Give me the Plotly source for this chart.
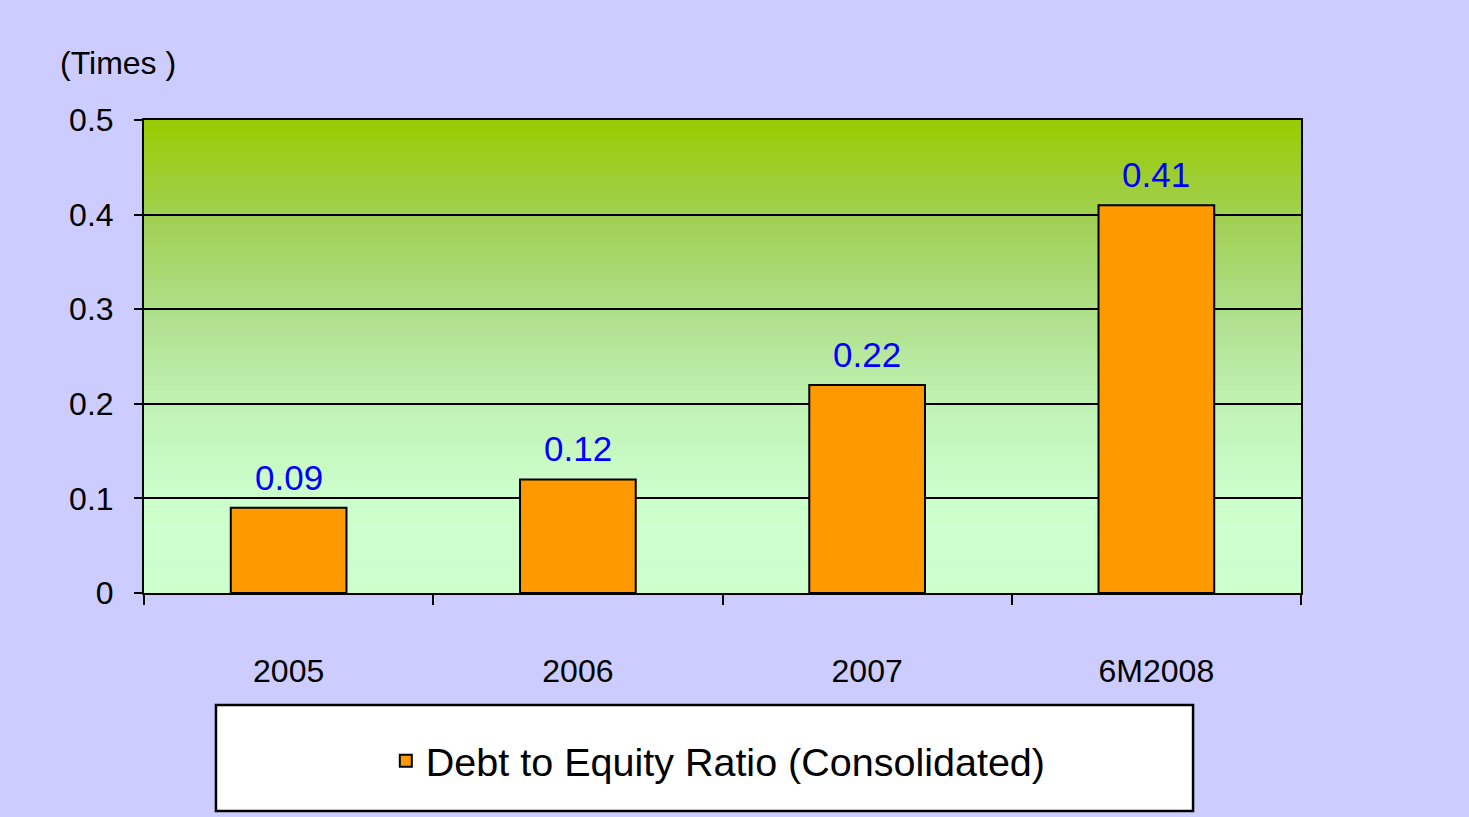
import plotly.graph_objects as go

categories = ["2005", "2006", "2007", "6M2008"]
values = [0.09, 0.12, 0.22, 0.41]
value_labels = ["0.09", "0.12", "0.22", "0.41"]
y_ticks = [0, 0.1, 0.2, 0.3, 0.4, 0.5]
y_tick_labels = ["0", "0.1", "0.2", "0.3", "0.4", "0.5"]
series_name = "Debt to Equity Ratio (Consolidated)"
unit_label = "(Times )"

FONT = "Arial, Liberation Sans, sans-serif"
positions = list(range(len(categories)))
boundaries = [p - 0.5 for p in positions] + [positions[-1] + 0.5]

fig = go.Figure()
fig.add_trace(go.Bar(
    x=positions, y=values, name=series_name, width=0.4,
    marker=dict(color="#FF9900", line=dict(color="black", width=2)),
    showlegend=True,
))

# gradient background of plot area
stops_y = [0.0, 0.1, 0.2, 0.3, 0.4, 0.5]
stops_c = [(204, 255, 204), (204, 255, 204), (192, 242, 180), (174, 223, 136), (160, 208, 80), (153, 204, 0)]

def col_at(v):
    for i in range(len(stops_y) - 1):
        if stops_y[i] <= v <= stops_y[i + 1]:
            t = (v - stops_y[i]) / (stops_y[i + 1] - stops_y[i])
            c = [round(a + (b - a) * t) for a, b in zip(stops_c[i], stops_c[i + 1])]
            return "rgb(%d,%d,%d)" % tuple(c)
    return "rgb(%d,%d,%d)" % stops_c[-1]

shapes = []
n = 100
for i in range(n):
    y0 = 0.5 * i / n
    y1 = 0.5 * (i + 1) / n
    shapes.append(dict(type="rect", xref="x domain", yref="y domain", x0=0, x1=1, y0=y0 * 2, y1=min(1, y1 * 2 + 0.001),
                       fillcolor=col_at((y0 + y1) / 2), line=dict(width=0), layer="below"))

# legend box
shapes.append(dict(type="rect", xref="paper", yref="paper", x0=0.0622, x1=0.9067, y0=-0.4609, y1=-0.2368,
                   fillcolor="white", line=dict(color="black", width=2.5), layer="below"))

annotations = [dict(x=p, y=v, text=t, xref="x", yref="y", showarrow=False, yanchor="bottom", yshift=9,
                    font=dict(family=FONT, size=35, color="#0000FF"))
               for p, v, t in zip(positions, values, value_labels)]
annotations.append(dict(x=-0.0743, y=1.0, xref="paper", yref="paper", text=unit_label, showarrow=False,
                        xanchor="left", yanchor="bottom", yshift=37,
                        font=dict(family=FONT, size=32, color="black")))

fig.update_layout(
    width=1469, height=817,
    paper_bgcolor="#CCCCFF", plot_bgcolor="rgba(0,0,0,0)",
    margin=dict(l=144, r=168, t=120, b=224),
    font=dict(family=FONT, size=32, color="black"),
    shapes=shapes, annotations=annotations,
    legend=dict(x=0.209, xanchor="left", y=-0.3552, yanchor="middle", orientation="h",
                bgcolor="rgba(0,0,0,0)", borderwidth=0,
                font=dict(family=FONT, size=39.5, color="black")),
    xaxis=dict(range=[-0.5, len(categories) - 0.5], tickmode="array", tickvals=positions, ticktext=categories,
               ticks="", showline=True, linecolor="black", linewidth=2, mirror=True,
               showgrid=False, zeroline=False, ticklabelstandoff=49, tickfont=dict(size=32), tickangle=0,
               minor=dict(tickmode="array", tickvals=boundaries, ticks="outside", ticklen=10, tickwidth=2,
                          tickcolor="black", showgrid=False)),
    yaxis=dict(range=[0, 0.5], tickvals=y_ticks, ticktext=y_tick_labels, ticks="outside", ticklen=8,
               tickwidth=2, tickcolor="black", showline=True, linecolor="black", linewidth=2, mirror=True,
               showgrid=True, gridcolor="black", gridwidth=2, zeroline=False, ticklabelstandoff=14,
               tickfont=dict(size=32)),
)

fig.write_html("out.html", config={"displayModeBar": False},
               post_script="document.body.style.margin='0';document.body.style.overflow='hidden';")
